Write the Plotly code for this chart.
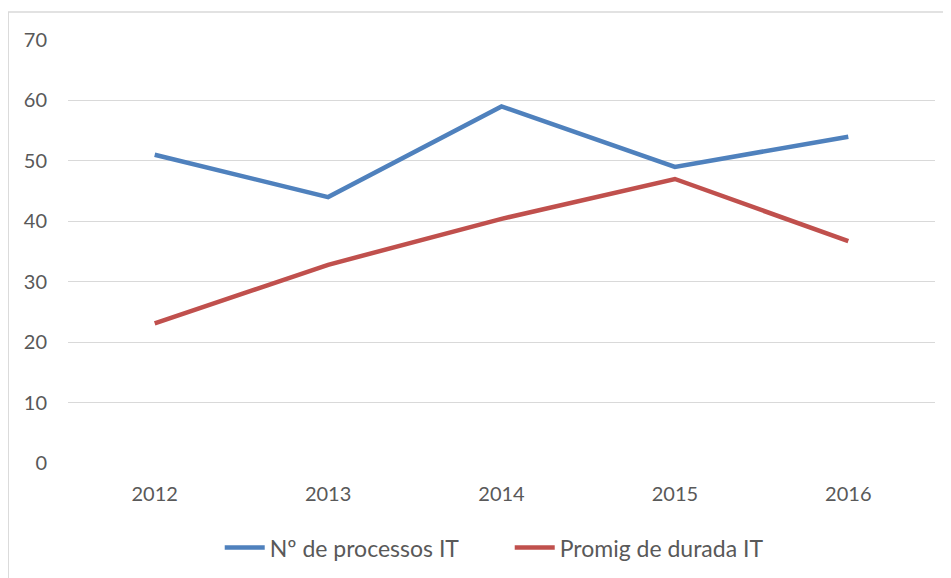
import plotly.graph_objects as go

years = ["2012", "2013", "2014", "2015", "2016"]
processos = [51, 44, 59, 49, 54]
durada = [23.1, 32.8, 40.4, 47.0, 36.7]
y_ticks = [0, 10, 20, 30, 40, 50, 60, 70]

FONT = "Lato, 'Open Sans', sans-serif"
TXT = "#595959"

fig = go.Figure()
fig.add_trace(go.Scatter(x=years, y=processos, mode="lines", name="Nº de processos IT",
                         line=dict(color="#4F81BD", width=4.5)))
fig.add_trace(go.Scatter(x=years, y=durada, mode="lines", name="Promig de durada IT",
                         line=dict(color="#C0504D", width=4.5)))

fig.update_layout(
    width=951, height=578,
    margin=dict(l=60, r=24, t=32, b=123),
    paper_bgcolor="white", plot_bgcolor="white",
    font=dict(family=FONT, size=20, color=TXT),
    showlegend=True,
    legend=dict(orientation="h", x=0.175, xanchor="left", y=-0.2, yanchor="middle",
                font=dict(family=FONT, size=23, color=TXT), itemwidth=40, tracegroupgap=0,
                entrywidth=235, entrywidthmode="pixels"),
    xaxis=dict(type="category", range=[-0.5, 4.5], showgrid=False, zeroline=False,
               showline=False, ticks="", ticklabelstandoff=17,
               tickfont=dict(family=FONT, size=20, color=TXT)),
    yaxis=dict(range=[0, 70], tickvals=y_ticks, showgrid=True, gridcolor="#D9D9D9",
               gridwidth=1.3, zeroline=False, showline=False, ticks="",
               ticklabelstandoff=20, tickfont=dict(family=FONT, size=20, color=TXT)),
    shapes=[dict(type="rect", xref="paper", yref="paper", x0=-0.069, x1=1.2,
                 y0=-0.5, y1=1.066, line=dict(color="#D9D9D9", width=1.5), layer="below")],
)

fig.write_html("out.html")
